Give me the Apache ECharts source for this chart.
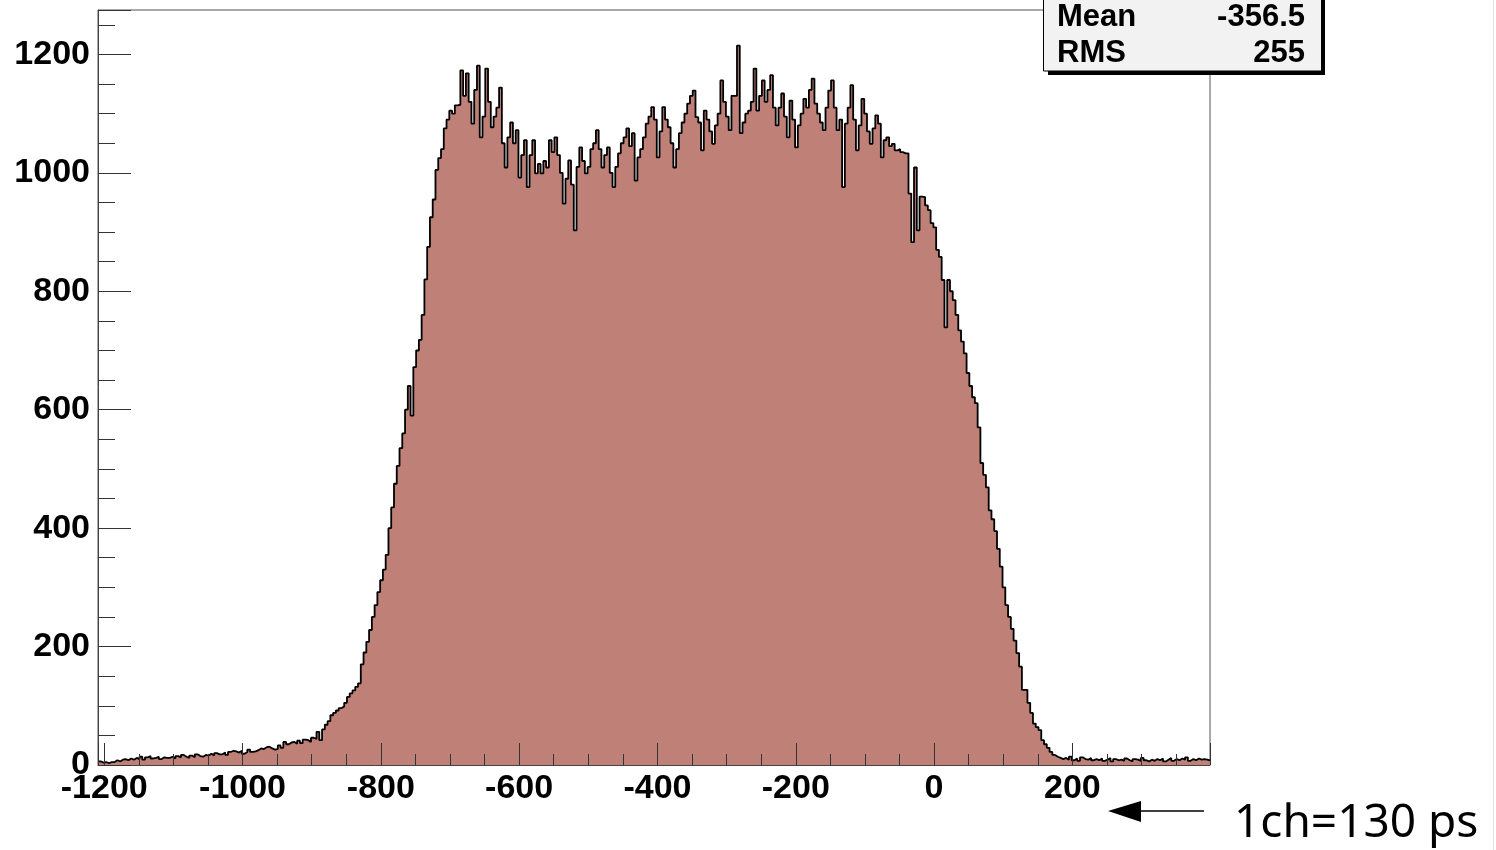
<!DOCTYPE html>
<html><head><meta charset="utf-8">
<script src="https://cdn.jsdelivr.net/npm/echarts@6/dist/echarts.min.js"></script>
<style>html,body{margin:0;padding:0;background:#fff;} #c{width:1496px;height:850px;}</style>
</head><body><div id="c"></div>
<script>
// Histogram definition
const binStart = -1209;
const binWidth = 4;
const counts = [
  6,4,5,3,5,5,8,6,9,10,
  8,11,9,12,10,14,9,13,15,11,
  12,14,10,13,12,12,14,11,15,13,
  17,14,12,16,13,18,15,14,17,16,
  19,16,20,18,18,21,17,22,24,23,
  21,24,19,22,26,22,23,25,28,27,
  30,31,28,26,27,33,29,39,35,38,
  39,36,41,37,43,42,39,46,44,56,
  42,60,68,74,84,88,92,96,99,105,
  115,121,126,132,138,170,190,208,228,250,
  270,292,312,330,355,400,435,475,505,535,
  560,600,640,590,672,700,718,760,820,875,
  925,955,1005,1025,1040,1075,1090,1105,1100,1114,
  1115,1173,1130,1168,1120,1083,1140,1181,1060,1095,
  1176,1120,1077,1095,1110,1144,1050,1009,1060,1085,
  1050,1072,992,1030,1055,976,1030,1055,999,1015,
  999,1020,1009,1055,1035,1060,1030,1000,948,990,
  1021,980,903,1010,1043,1020,999,1010,1040,1050,
  1072,1040,1009,1030,1043,1000,976,1010,1033,1050,
  1060,1075,1045,1067,987,1026,1040,1060,1083,1095,
  1111,1090,1026,1070,1111,1090,1077,1050,1009,1040,
  1067,1085,1100,1117,1130,1139,1094,1085,1038,1105,
  1090,1070,1049,1080,1100,1156,1120,1095,1072,1130,
  1130,1215,1067,1085,1100,1105,1120,1176,1105,1130,
  1156,1120,1140,1165,1110,1080,1110,1134,1095,1060,
  1122,1090,1043,1080,1100,1125,1110,1140,1159,1117,
  1100,1085,1072,1110,1139,1156,1110,1072,1090,976,
  1083,1110,1148,1090,1038,1080,1125,1100,1070,1049,
  1075,1097,1083,1026,1055,1060,1045,1049,1038,1040,
  1035,1033,1033,965,883,1009,903,960,959,945,
  937,915,908,870,858,819,739,819,800,785,
  760,734,715,695,662,640,621,611,570,510,
  490,469,430,415,395,365,335,300,270,250,
  230,210,189,166,127,127,105,88,70,64,
  59,42,35,29,22,17,14,12,10,12,
  9,14,8,11,7,13,10,9,12,8,
  10,8,11,7,9,12,6,10,8,9,
  7,11,8,6,10,9,7,12,8,6,
  9,7,10,8,11,6,9,12,7,10,
  8,11,9,13,7,10,8,11,9,10,
  9,8
];
const xTickLabels = [-1200,-1000,-800,-600,-400,-200,0,200];
const yTickLabels = [0,200,400,600,800,1000,1200];
const statsNames = ['Mean','RMS'];
const statsValues = ['-356.5','255'];
const noteText = '1ch=130 ps';

const xMin = binStart;
const xMax = binStart + counts.length * binWidth;
const yMax = 1275;

const seriesData = counts.map((v, i) => [binStart + i * binWidth, v]);
seriesData.push([xMax, counts[counts.length - 1]]);

const chart = echarts.init(document.getElementById('c'), null, {renderer: 'canvas'});
const labelFont = {fontFamily: 'Liberation Sans', fontWeight: 'bold', fontSize: 34, color: '#000'};
const statFont = 'bold 31px "Liberation Sans"';

chart.setOption({
  animation: false,
  backgroundColor: '#fff',
  grid: {left: 98, right: 286, top: 10, bottom: 85, show: true, borderColor: '#555', borderWidth: 1, backgroundColor: 'transparent'},
  xAxis: [
    {type: 'value', min: xMin, max: xMax, minInterval: 200, maxInterval: 200, splitNumber: 8, z: 5,
     axisLine: {show: true, onZero: false, lineStyle: {color: '#444', width: 1}},
     axisTick: {show: true, inside: true, length: 22, lineStyle: {color: '#333', width: 1}},
     splitLine: {show: false},
     axisLabel: Object.assign({margin: 7, formatter: v => xTickLabels.includes(Math.round(v)) && Math.abs(v - Math.round(v)) < 1e-6 ? String(Math.round(v)) : ''}, labelFont)},
    {type: 'value', min: xMin, max: xMax, minInterval: 50, maxInterval: 50, splitNumber: 32, position: 'bottom', offset: 0, z: 5,
     axisLine: {show: false, onZero: false},
     axisTick: {show: true, inside: true, length: 11, lineStyle: {color: '#333', width: 1}},
     splitLine: {show: false}, axisLabel: {show: false}}
  ],
  yAxis: [
    {type: 'value', min: 0, max: yMax, interval: 200, z: 5,
     axisLine: {show: true, onZero: false, lineStyle: {color: '#444', width: 1}},
     axisTick: {show: true, inside: true, length: 33, lineStyle: {color: '#333', width: 1}},
     splitLine: {show: false},
     axisLabel: Object.assign({margin: 8, padding: [6, 0, 0, 0], formatter: v => yTickLabels.includes(v) ? String(v) : ''}, labelFont)},
    {type: 'value', min: 0, max: yMax, interval: 50, position: 'left', offset: 0, z: 5,
     axisLine: {show: false, onZero: false},
     axisTick: {show: true, inside: true, length: 17, lineStyle: {color: '#333', width: 1}},
     splitLine: {show: false}, axisLabel: {show: false}}
  ],
  series: [{
    type: 'line', xAxisIndex: 0, yAxisIndex: 0, step: 'end', symbol: 'none',
    data: seriesData,
    lineStyle: {color: '#000', width: 1.8},
    areaStyle: {color: '#bf8077', opacity: 1},
    z: 2
  }],
  graphic: [
    {type: 'rect', z: 100, shape: {x: 1048, y: -10, width: 277, height: 85}, style: {fill: '#000'}},
    {type: 'rect', z: 101, shape: {x: 1043.5, y: -10, width: 278, height: 81}, style: {fill: '#f2f2f2', stroke: '#000', lineWidth: 1}},
    {type: 'text', z: 102, style: {text: statsNames[0], x: 1057, y: 17, font: statFont, fill: '#000', verticalAlign: 'middle', align: 'left'}},
    {type: 'text', z: 102, style: {text: statsValues[0], x: 1305, y: 17, font: statFont, fill: '#000', verticalAlign: 'middle', align: 'right'}},
    {type: 'text', z: 102, style: {text: statsNames[1], x: 1057, y: 53, font: statFont, fill: '#000', verticalAlign: 'middle', align: 'left'}},
    {type: 'text', z: 102, style: {text: statsValues[1], x: 1305, y: 53, font: statFont, fill: '#000', verticalAlign: 'middle', align: 'right'}},
    {type: 'line', z: 100, shape: {x1: 1204, y1: 811, x2: 1138, y2: 811}, style: {stroke: '#000', lineWidth: 1.5}},
    {type: 'polygon', z: 100, shape: {points: [[1108, 811], [1141, 801], [1141, 822]]}, style: {fill: '#000'}},
    {type: 'text', z: 100, style: {text: noteText, x: 1234, y: 824, font: '46px "Noto Sans"', fill: '#000', verticalAlign: 'middle', align: 'left'}},
    {type: 'line', z: 100, shape: {x1: 1493.5, y1: 0, x2: 1493.5, y2: 850}, style: {stroke: '#e2e2e2', lineWidth: 1}}
  ]
});
</script>
</body></html>
